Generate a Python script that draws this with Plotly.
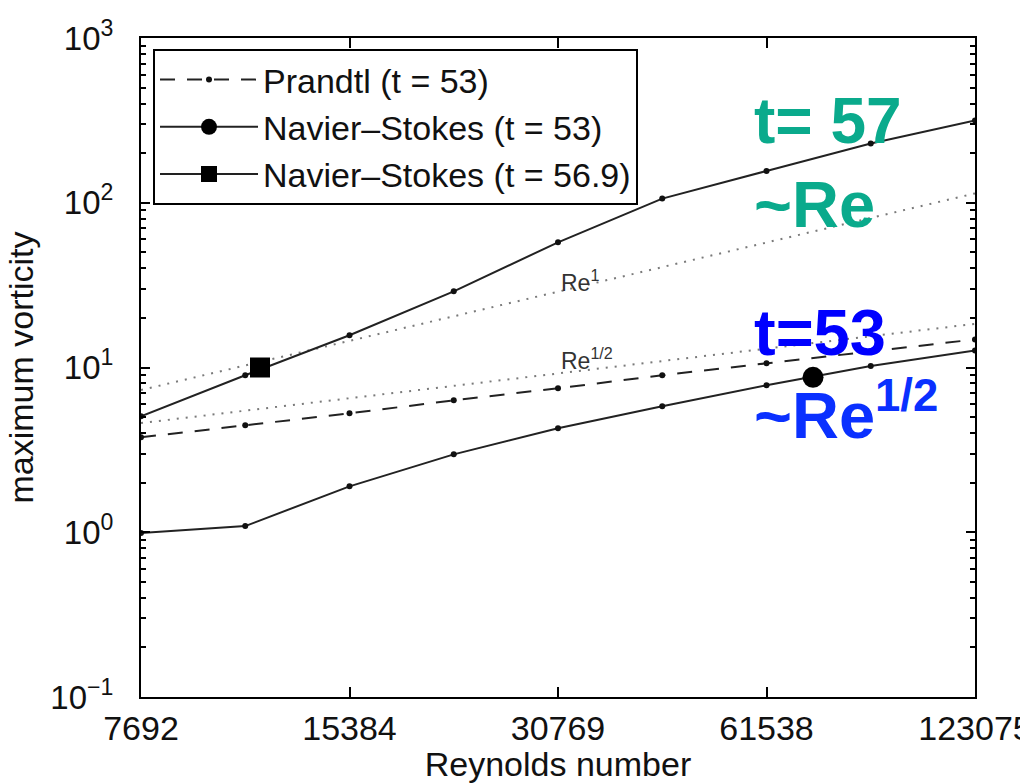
import plotly.graph_objects as go

# Reynolds numbers of the runs (half-octave spacing)
reynolds = [7692, 10878, 15384, 21756, 30769, 43512, 61538, 87027, 123076]

# Maximum vorticity for each model
prandtl_t53 = [3.77, 4.46, 5.27, 6.32, 7.48, 8.97, 10.6, 12.5, 14.8]
ns_t53 = [0.99, 1.09, 1.90, 2.97, 4.28, 5.82, 7.80, 10.2, 12.7]
ns_t569 = [5.06, 8.97, 15.7, 29.0, 57.5, 106, 156, 229, 316]

# Highlighted points
ns_t53_mark_re, ns_t53_mark_val = [71830], [8.72]
ns_t569_mark_re, ns_t569_mark_val = [11425], [10.0]

# Power-law guide lines (end points)
guide_re = [7692, 123076]
guide_re1 = [7.3, 114]
guide_re_half = [4.6, 18.4]

x_tick_vals = [7692, 15384, 30769, 61538, 123076]
x_tick_text = ["7692", "15384", "30769", "61538", "123075"]
y_tick_vals = [0.1, 1, 10, 100, 1000]
y_tick_text = ["10<sup>−1</sup>", "10<sup>0</sup>", "10<sup>1</sup>", "10<sup>2</sup>", "10<sup>3</sup>"]
y_minor_vals = [m * 10.0 ** e for e in range(-1, 3) for m in range(2, 10)]

FONT = "Liberation Sans, Arial, Helvetica, sans-serif"
LINE_COL = "#222222"

fig = go.Figure()

# guide lines
fig.add_trace(go.Scatter(x=guide_re, y=guide_re1, mode="lines", showlegend=False,
                         line=dict(color="#7a7a7a", width=2, dash="2px,7px")))
fig.add_trace(go.Scatter(x=guide_re, y=guide_re_half, mode="lines", showlegend=False,
                         line=dict(color="#7a7a7a", width=2, dash="2px,7px")))

# Prandtl
fig.add_trace(go.Scatter(x=reynolds, y=prandtl_t53, mode="lines+markers",
                         name="Prandtl (t = 53)",
                         line=dict(color=LINE_COL, width=2, dash="15px,12px"),
                         marker=dict(symbol="circle", size=6, color="#111111")))

# Navier-Stokes t = 53
fig.add_trace(go.Scatter(x=reynolds, y=ns_t53, mode="lines+markers", showlegend=False,
                         line=dict(color=LINE_COL, width=2),
                         marker=dict(symbol="circle", size=6, color="#111111")))
fig.add_trace(go.Scatter(x=ns_t53_mark_re, y=ns_t53_mark_val, mode="lines+markers",
                         name="Navier–Stokes (t = 53)",
                         line=dict(color=LINE_COL, width=2),
                         marker=dict(symbol="circle", size=21, color="black")))

# Navier-Stokes t = 56.9
fig.add_trace(go.Scatter(x=reynolds, y=ns_t569, mode="lines+markers", showlegend=False,
                         line=dict(color=LINE_COL, width=2),
                         marker=dict(symbol="circle", size=6, color="#111111")))
fig.add_trace(go.Scatter(x=ns_t569_mark_re, y=ns_t569_mark_val, mode="lines+markers",
                         name="Navier–Stokes (t = 56.9)",
                         line=dict(color=LINE_COL, width=2),
                         marker=dict(symbol="square", size=20, color="black")))

L, R, T, B = 141, 45, 38, 86
W, H = 1020, 783
PW, PH = W - L - R, H - T - B


def px(xp):
    return (xp - L) / PW


def py(yp):
    return (H - B - yp) / PH


annotations = [
    dict(text="Re<sup>1</sup>", x=px(559), y=py(281), font=dict(size=23, color="#333333")),
    dict(text="Re<sup>1/2</sup>", x=px(559), y=py(359), font=dict(size=23, color="#333333")),
    dict(text="<b>t= 57</b>", x=px(752), y=py(121), font=dict(size=64, color="#0aaa8c")),
    dict(text="<b>~Re</b>", x=px(752), y=py(204), font=dict(size=65, color="#0aaa8c")),
    dict(text="<b>t=53</b>", x=px(752), y=py(333), font=dict(size=65, color="#0000ff")),
    dict(text="<b>~Re<sup>1/2</sup></b>", x=px(752), y=py(411), font=dict(size=65, color="#0a30ff")),
]
for a in annotations:
    a.update(xref="paper", yref="paper", xanchor="left", yanchor="middle",
             showarrow=False)
    a["font"]["family"] = FONT

fig.update_layout(
    width=W, height=H,
    margin=dict(l=L, r=R, t=T, b=B, autoexpand=False),
    paper_bgcolor="white", plot_bgcolor="white",
    font=dict(family=FONT, size=34, color="#111111"),
    annotations=annotations,
    legend=dict(x=0.0144, y=py(49), xanchor="left", yanchor="top",
                bgcolor="white", bordercolor="black", borderwidth=2,
                font=dict(size=34, family=FONT, color="#111111"),
                itemwidth=98, tracegroupgap=0),
    showlegend=True,
)

fig.update_xaxes(
    type="log", range=[3.88604, 5.09018],
    tickvals=x_tick_vals, ticktext=x_tick_text,
    ticks="inside", ticklen=10, tickwidth=2, tickcolor="black",
    showline=True, linecolor="black", linewidth=2, mirror="ticks",
    showgrid=False, zeroline=False, ticklabeloverflow="allow",
    tickfont=dict(size=34, family=FONT),
    title=dict(text="Reynolds number", font=dict(size=34, family=FONT), standoff=6),
)
fig.update_yaxes(
    type="log", range=[-1, 3],
    tickvals=y_tick_vals, ticktext=y_tick_text,
    ticks="inside", ticklen=9, tickwidth=2, tickcolor="black",
    showline=True, linecolor="black", linewidth=2, mirror="ticks",
    showgrid=False, zeroline=False,
    ticklabelstandoff=19,
    tickfont=dict(size=33, family=FONT),
    minor=dict(tickvals=y_minor_vals, ticks="inside", ticklen=5, tickwidth=1.5,
               tickcolor="black", showgrid=False),
    title=dict(text="maximum vorticity", font=dict(size=34, family=FONT), standoff=6),
)

fig.write_html("out.html")
